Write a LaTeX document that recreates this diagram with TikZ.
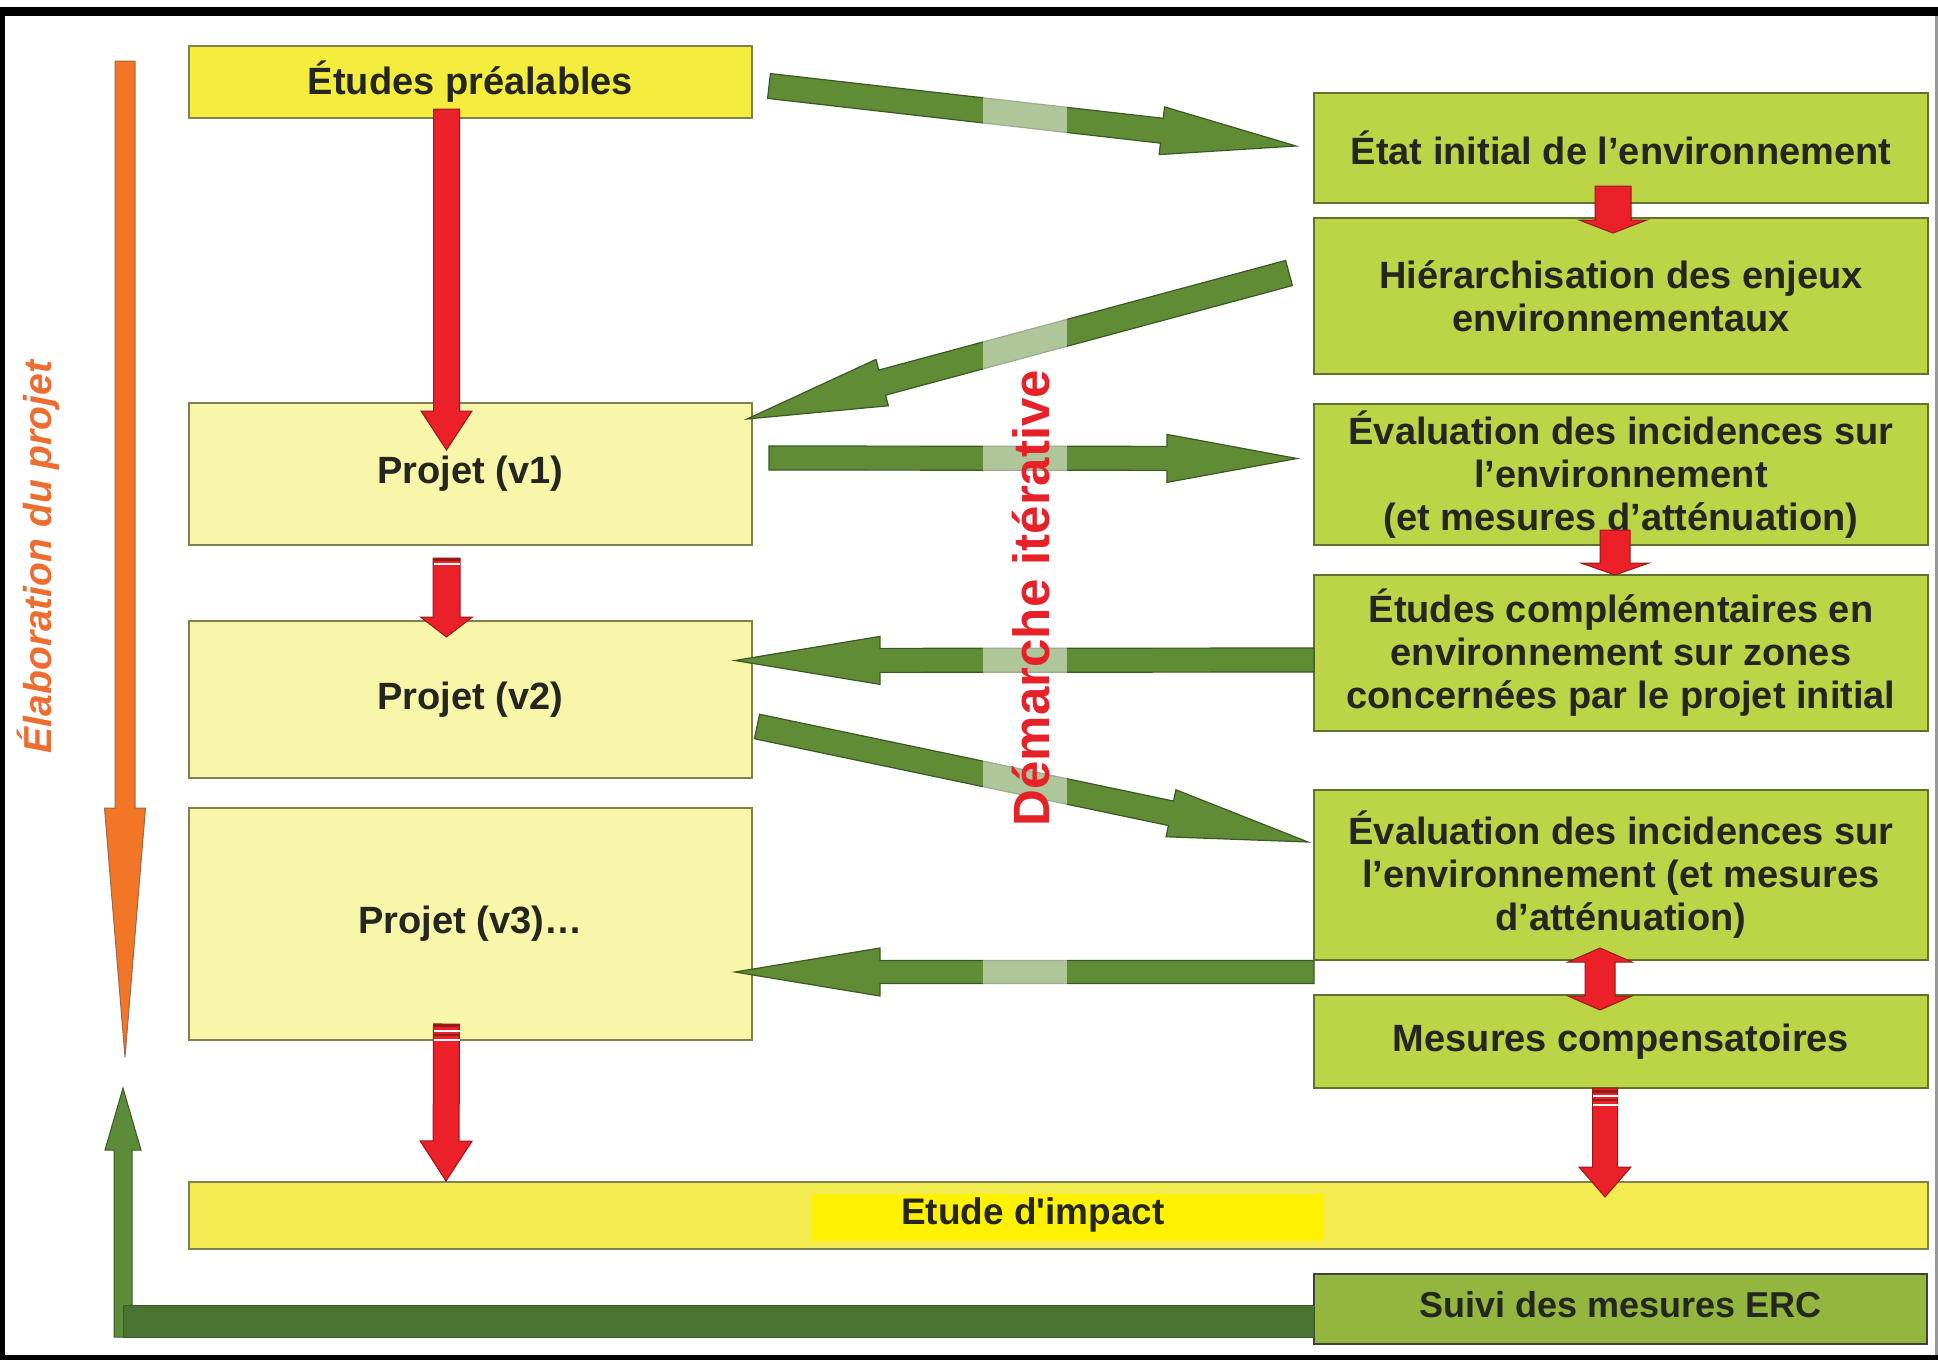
\documentclass[tikz,border=0pt]{standalone}
\usepackage{fontspec}
\setmainfont{Liberation Sans}[Ligatures=TeXOff]
\usetikzlibrary{calc}
\definecolor{yelStrong}{RGB}{245,237,62}
\definecolor{yelPale}{RGB}{248,246,168}
\definecolor{yelImpact}{RGB}{243,236,80}
\definecolor{yelHi}{RGB}{255,242,0}
\definecolor{grnBox}{RGB}{188,213,70}
\definecolor{grnSuivi}{RGB}{146,182,62}
\definecolor{boxLine}{RGB}{128,128,80}
\definecolor{grnLine}{RGB}{95,115,45}
\definecolor{grnArrow}{RGB}{96,140,54}
\definecolor{grnArrowLine}{RGB}{60,88,36}
\definecolor{grnLoopV}{RGB}{92,140,58}
\definecolor{grnLoop}{RGB}{74,114,48}
\definecolor{redArrow}{RGB}{236,32,40}
\definecolor{redLine}{RGB}{150,25,25}
\definecolor{orangeA}{RGB}{243,118,38}
\definecolor{orangeLine}{RGB}{150,105,80}
\definecolor{txt}{RGB}{38,38,32}
\definecolor{redTxt}{RGB}{230,34,40}
\definecolor{orangeTxt}{RGB}{238,108,45}
\newcommand\boxfont{\fontsize{38}{43}\selectfont\bfseries}
% block arrow: [style]{tail}{tip}{shaft half width}{head length}{head half width}
\newcommand\blockarrow[6][]{%
  \coordinate (baH) at ($(#3)!#5!(#2)$);
  \path[#1] ($(#2)!#4!90:(#3)$) -- ($(baH)!#4!-90:(#2)$) -- ($(baH)!#6!-90:(#2)$)
    -- (#3) -- ($(baH)!#6!90:(#2)$) -- ($(baH)!#4!90:(#2)$) -- ($(#2)!#4!-90:(#3)$) -- cycle;}
\begin{document}
\begin{tikzpicture}[x=1pt,y=-1pt,
  box/.style={draw, line width=2pt, inner sep=0pt, outer sep=0pt, align=center,
    anchor=north west, text=txt, font=\boxfont},
  ybox/.style={box, draw=boxLine, fill=yelPale},
  gbox/.style={box, draw=grnLine, fill=grnBox},
  garrow/.style={fill=grnArrow, draw=grnArrowLine, line width=1.2pt, line join=miter},
  rarrow/.style={fill=redArrow, draw=redLine, line width=1pt},
  oarrow/.style={fill=orangeA, draw=orangeLine, line width=1pt},
  stripe/.style={white, line width=2pt}]
\useasboundingbox (0,0) rectangle (1938,1360);
\fill[white] (0,0) rectangle (1938,1360);
% frame
\fill[black] (0,7) rectangle (1938,16);
\fill[black] (0,7) rectangle (5,1360);
\fill[black] (0,1355) rectangle (1938,1360);
\fill[black!40] (1935,16) rectangle (1938,1355);

% left column
\node[ybox, fill=yelStrong, minimum width=563pt, minimum height=72pt] (etudes) at (189,46) {Études préalables};
\node[ybox, minimum width=563pt, minimum height=142pt] (v1) at (189,403) {Projet (v1)};
\node[ybox, minimum width=563pt, minimum height=157pt] (v2) at (189,621) {Projet (v2)};
\node[ybox, minimum width=563pt, minimum height=232pt] (v3) at (189,808) {Projet (v3)…};
\node[ybox, fill=yelImpact, minimum width=1739pt, minimum height=67pt] (impact) at (189,1182) {};
\fill[yelHi] (812,1194) rectangle (1324,1241);
\node[text=txt, font=\fontsize{37}{42}\selectfont\bfseries] (impacttxt) at (1033,1215) {Etude d'impact};

% right column
\node[gbox, minimum width=614pt, minimum height=110pt] (etat) at (1314,93) {État initial de l’environnement};
\node[gbox, minimum width=614pt, minimum height=156pt] (hier) at (1314,218) {Hiérarchisation des enjeux\\environnementaux};
\node[gbox, minimum width=614pt, minimum height=141pt] (eval1) at (1314,404) {Évaluation des incidences sur\\l’environnement\\(et mesures d’atténuation)};
\node[gbox, minimum width=614pt, minimum height=156pt] (compl) at (1314,575) {Études complémentaires en\\environnement sur zones\\concernées par le projet initial};
\node[gbox, minimum width=614pt, minimum height=170pt] (eval2) at (1314,790) {Évaluation des incidences sur\\l’environnement (et mesures\\d’atténuation)};
\node[gbox, minimum width=614pt, minimum height=93pt] (mesures) at (1314,995) {Mesures compensatoires};
\node[gbox, draw=black!75, fill=grnSuivi, minimum width=613pt, minimum height=70pt,
  font=\fontsize{36}{40}\selectfont\bfseries] (suivi) at (1314,1274) {\raisebox{10pt}{Suivi des mesures ERC}};

% green iterative arrows
\coordinate (g1s) at ($(etudes.east)+(17,4)$);
\coordinate (g1e) at ($(etat.west)+(-18,-2)$);
\blockarrow[garrow]{g1s}{g1e}{12.5pt}{135pt}{24pt}
\coordinate (g2s) at ($(hier.west)+(-25,-23)$);
\coordinate (g2e) at ($(v1.north east)+(-5,16)$);
\blockarrow[garrow]{g2s}{g2e}{13pt}{140pt}{24pt}
\coordinate (g3s) at ($(v1.east)+(17,-16)$);
\coordinate (g3e) at ($(eval1.west)+(-17,-16)$);
\blockarrow[garrow]{g3s}{g3e}{12pt}{130pt}{24pt}
\coordinate (g4s) at ($(compl.west)+(0,7)$);
\coordinate (g4e) at ($(v2.east)+(-17,-39)$);
\blockarrow[garrow]{g4s}{g4e}{12pt}{145pt}{24pt}
\coordinate (g5s) at ($(v2.east)+(5,27)$);
\coordinate (g5e) at ($(eval2.west)+(-6,-33)$);
\blockarrow[garrow]{g5s}{g5e}{12.5pt}{140pt}{24pt}
\coordinate (g6s) at ($(eval2.south west)+(0,12)$);
\coordinate (g6e) at ($(v3.east)+(-17,48)$);
\blockarrow[garrow]{g6s}{g6e}{11.5pt}{145pt}{24pt}
% translucent strip behind the vertical label
\fill[white, opacity=0.5] (983,55) rectangle (1067,1000);

% orange elaboration arrow
\coordinate (o1) at (125,61);
\coordinate (o2) at (125,1057);
\blockarrow[oarrow]{o1}{o2}{10pt}{249pt}{20.5pt}

% green feedback loop
\coordinate (l1) at (123,1337);
\coordinate (l2) at (123,1088);
\blockarrow[fill=grnLoopV, draw=grnArrowLine, line width=1pt]{l1}{l2}{9pt}{62pt}{18pt}
\coordinate (lb1) at (123,1305);
\coordinate (lb2) at ($(suivi.west)+(0,28)$);
\path[fill=grnLoop, draw=grnArrowLine, line width=1pt] (lb1) rectangle (lb2);

% red arrows
\coordinate (r1s) at ($(etudes.south)+(-24,-9)$);
\coordinate (r1e) at ($(v1.north)+(-24,47)$);
\blockarrow[rarrow]{r1s}{r1e}{13pt}{39pt}{25.5pt}
\coordinate (r2s) at ($(v1.south)+(-24,13)$);
\coordinate (r2e) at ($(v2.north)+(-24,16)$);
\blockarrow[rarrow]{r2s}{r2e}{13.5pt}{20pt}{26pt}
\draw[redLine, line width=3pt] ($(r2s)+(-13,1.5)$) -- ($(r2s)+(13,1.5)$);
\draw[stripe] ($(r2s)+(-13,6)$) -- ($(r2s)+(13,6)$);
\coordinate (r3s) at ($(v3.south)+(-24,-16)$);
\coordinate (r3e) at ($(impact.north west)+(257,-1)$);
\blockarrow[rarrow]{r3s}{r3e}{13pt}{40pt}{26pt}
\draw[redLine, line width=3pt] ($(r3s)+(-13,1.5)$) -- ($(r3s)+(13,1.5)$);
\draw[stripe] ($(r3s)+(-13,7)$) -- ($(r3s)+(13,7)$);
\draw[redLine, line width=2pt] ($(r3s)+(-13,11)$) -- ($(r3s)+(13,11)$);
\draw[stripe] ($(r3s)+(-13,16)$) -- ($(r3s)+(13,16)$);
\coordinate (r4s) at ($(etat.south west)+(299,-17)$);
\coordinate (r4e) at ($(hier.north west)+(299,15)$);
\blockarrow[rarrow]{r4s}{r4e}{18pt}{13pt}{34pt}
\coordinate (r5s) at ($(eval1.south west)+(301,-15)$);
\coordinate (r5e) at ($(compl.north west)+(301,0)$);
\blockarrow[rarrow]{r5s}{r5e}{15pt}{12pt}{34pt}
\coordinate (r6a) at ($(eval2.south west)+(286,-12)$);
\coordinate (r6b) at ($(mesures.north west)+(286,15)$);
\path[rarrow] (r6a) -- ++(32,14) -- ++(-17,0) -- ++(0,34) -- ++(17,0) -- (r6b)
  -- ++(-32,-14) -- ++(17,0) -- ++(0,-34) -- ++(-17,0) -- cycle;
\coordinate (r7s) at ($(mesures.south west)+(291,0)$);
\coordinate (r7e) at ($(impact.north west)+(1416,15)$);
\blockarrow[rarrow]{r7s}{r7e}{12.5pt}{30pt}{26pt}
\draw[redLine, line width=3pt] ($(r7s)+(-12.5,3)$) -- ($(r7s)+(12.5,3)$);
\draw[stripe] ($(r7s)+(-12.5,8)$) -- ($(r7s)+(12.5,8)$);
\draw[redLine, line width=2pt] ($(r7s)+(-12.5,12)$) -- ($(r7s)+(12.5,12)$);
\draw[stripe] ($(r7s)+(-12.5,17)$) -- ($(r7s)+(12.5,17)$);

% vertical labels
\node[rotate=90, anchor=base, text=redTxt, font=\fontsize{51}{58}\selectfont\bfseries] (dem) at (1049,598) {Démarche itérative};
\node[rotate=90, anchor=base, text=orangeTxt, font=\fontsize{39}{44}\selectfont\bfseries\itshape] (elab) at (51,557) {Élaboration du projet};
\end{tikzpicture}
\end{document}
